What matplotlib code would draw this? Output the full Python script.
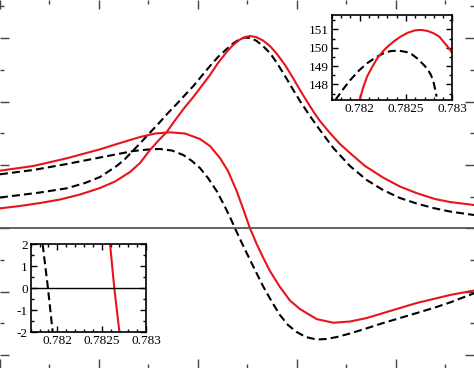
import numpy as np
import matplotlib.pyplot as plt
from matplotlib.ticker import MultipleLocator

# main panel (arbitrary units, the original hides the tick labels)
x_r1 = [0, 0.202, 0.404, 0.606, 0.808, 1.010, 1.162, 1.313, 1.414, 1.515, 1.596, 1.684, 1.785,
        1.869, 1.953, 2.037, 2.121, 2.202, 2.290, 2.354, 2.424, 2.475, 2.525, 2.586, 2.657, 2.727,
        2.798, 2.879, 2.960, 3.030, 3.111, 3.182, 3.232, 3.333, 3.434, 3.535, 3.687, 3.869, 4.040,
        4.209, 4.394, 4.545, 4.788]
y_r1 = [0.315, 0.352, 0.399, 0.454, 0.533, 0.636, 0.738, 0.888, 1.030, 1.235, 1.377, 1.519, 1.740,
        1.913, 2.071, 2.244, 2.418, 2.607, 2.781, 2.891, 2.978, 3.017, 3.033, 3.017, 2.962, 2.875,
        2.749, 2.576, 2.371, 2.181, 1.976, 1.803, 1.692, 1.503, 1.330, 1.188, 0.983, 0.801, 0.659,
        0.555, 0.462, 0.415, 0.368]

x_k1 = [0, 0.202, 0.404, 0.674, 0.859, 1.010, 1.179, 1.263, 1.330, 1.414, 1.508, 1.616, 1.697,
        1.785, 1.869, 1.953, 2.037, 2.121, 2.202, 2.290, 2.354, 2.424, 2.475, 2.525, 2.586, 2.646,
        2.727, 2.798, 2.879, 2.963, 3.030, 3.131, 3.232, 3.367, 3.535, 3.704, 3.869, 4.040, 4.209,
        4.377, 4.545, 4.788]
y_k1 = [0.486, 0.525, 0.565, 0.631, 0.715, 0.809, 0.983, 1.093, 1.203, 1.338, 1.498, 1.677, 1.819,
        1.961, 2.103, 2.244, 2.402, 2.560, 2.702, 2.828, 2.915, 2.986, 3.009, 3.002, 2.962, 2.891,
        2.765, 2.607, 2.402, 2.181, 2.008, 1.771, 1.550, 1.267, 0.983, 0.762, 0.604, 0.478, 0.391,
        0.320, 0.265, 0.210]

x_r2 = [0, 0.336, 0.674, 1.010, 1.212, 1.414, 1.566, 1.717, 1.869, 2.020, 2.121, 2.222, 2.303,
        2.391, 2.455, 2.525, 2.593, 2.660, 2.727, 2.828, 2.929, 3.030, 3.199, 3.367, 3.535, 3.704,
        3.872, 4.040, 4.209, 4.377, 4.545, 4.788]
y_r2 = [0.909, 0.983, 1.104, 1.246, 1.345, 1.440, 1.495, 1.514, 1.495, 1.409, 1.298, 1.109, 0.904,
        0.588, 0.312, 0.0, -0.248, -0.468, -0.673, -0.926, -1.139, -1.273, -1.432, -1.489, -1.470,
        -1.415, -1.336, -1.257, -1.178, -1.115, -1.052, -0.981]

x_k2 = [0, 0.336, 0.674, 1.010, 1.346, 1.515, 1.616, 1.737, 1.852, 1.939, 2.020, 2.101, 2.189,
        2.263, 2.323, 2.374, 2.424, 2.492, 2.576, 2.660, 2.747, 2.828, 2.909, 2.997, 3.091, 3.199,
        3.293, 3.401, 3.535, 3.704, 3.869, 4.040, 4.209, 4.377, 4.545, 4.788]
y_k2 = [0.852, 0.920, 1.014, 1.117, 1.219, 1.246, 1.251, 1.227, 1.156, 1.062, 0.951, 0.793, 0.588,
        0.368, 0.178, 0.0, -0.169, -0.390, -0.658, -0.921, -1.162, -1.368, -1.525, -1.636, -1.715,
        -1.754, -1.746, -1.715, -1.659, -1.577, -1.494, -1.415, -1.336, -1.257, -1.170, -1.025]

# top-right inset
xi_r = [0.78200, 0.78204, 0.78208, 0.78213, 0.78219, 0.78225, 0.78230, 0.78237, 0.78244,
        0.78252, 0.78260, 0.78266, 0.78273, 0.78280, 0.78286, 0.78290, 0.78295, 0.78300]
yi_r = [147.15, 147.85, 148.42, 148.90, 149.42, 149.80, 150.05, 150.35, 150.60,
        150.82, 150.95, 150.97, 150.92, 150.78, 150.60, 150.35, 150.05, 149.70]
xi_k = [0.781739, 0.78182, 0.78190, 0.78199, 0.78208, 0.78217, 0.78226, 0.78234, 0.78242,
        0.78250, 0.78256, 0.78262, 0.78268, 0.78273, 0.78277, 0.78280, 0.78283]
yi_k = [147.15, 147.72, 148.24, 148.74, 149.15, 149.46, 149.70, 149.82, 149.84,
        149.77, 149.65, 149.42, 149.12, 148.85, 148.50, 148.06, 147.33]

# bottom-left inset
xz_r = [0.782595, 0.782643, 0.782700]
yz_r = [2.0, 0.0, -2.0]
xz_k = [0.781835, 0.781895, 0.781948]
yz_k = [2.0, 0.0, -2.0]

RED = '#e8141b'
DASH = (3.8, 2.0)

fig = plt.figure(figsize=(4.74, 3.68), dpi=100)
ax = fig.add_axes([0, 0, 1, 1])
ax.plot(x_k1, y_k1, color='k', lw=1.5, dashes=DASH)
ax.plot(x_k2, y_k2, color='k', lw=1.5, dashes=DASH)
ax.plot(x_r1, y_r1, color=RED, lw=1.5)
ax.plot(x_r2, y_r2, color=RED, lw=1.5)
ax.axhline(0, color='#555555', lw=1.3)
ax.set_xlim(0, 4.788)
ax.set_ylim(-2.203, 3.601)
ax.xaxis.set_major_locator(MultipleLocator(1))
ax.xaxis.set_minor_locator(MultipleLocator(0.5))
ax.yaxis.set_major_locator(MultipleLocator(1))
ax.yaxis.set_minor_locator(MultipleLocator(0.5))
ax.tick_params(which='both', direction='in', top=True, right=True,
               labelbottom=False, labelleft=False, color='#444444', width=1)
ax.tick_params(which='major', length=6.5)
ax.tick_params(which='minor', length=3.2)
for s in ax.spines.values():
    s.set_visible(False)

serif = ['Liberation Serif', 'DejaVu Serif']


def style_inset(a):
    a.tick_params(which='both', direction='in', top=True, right=True, width=1,
                  labelsize=9.5, pad=2)
    a.tick_params(which='major', length=4)
    a.tick_params(which='minor', length=2.5)
    for lab in a.get_xticklabels() + a.get_yticklabels():
        lab.set_family(serif)
    for s in a.spines.values():
        s.set_linewidth(1.2)


# top-right inset
a1 = fig.add_axes([0.700, 0.728, 0.2544, 0.231])
a1.plot(xi_k, yi_k, color='k', lw=1.5, dashes=DASH)
a1.plot(xi_r, yi_r, color=RED, lw=1.5)
a1.set_xlim(0.7817, 0.783)
a1.set_ylim(147.14, 151.78)
a1.xaxis.set_minor_locator(MultipleLocator(0.0001))
a1.yaxis.set_minor_locator(MultipleLocator(0.5))
a1.set_xticks([0.782, 0.7825, 0.783])
a1.set_xticklabels(['0.782', '0.7825', '0.783'])
a1.set_yticks([148, 149, 150, 151])
a1.set_yticklabels(['148', '149', '150', '151'])
style_inset(a1)

# bottom-left inset
a2 = fig.add_axes([0.0647, 0.0978, 0.2433, 0.2383])
a2.plot(xz_k, yz_k, color='k', lw=1.5, dashes=DASH)
a2.plot(xz_r, yz_r, color=RED, lw=1.5)
a2.axhline(0, color='k', lw=1)
a2.set_xlim(0.7817, 0.783)
a2.set_ylim(-2, 2)
a2.xaxis.set_minor_locator(MultipleLocator(0.0001))
a2.yaxis.set_minor_locator(MultipleLocator(0.5))
a2.set_xticks([0.782, 0.7825, 0.783])
a2.set_xticklabels(['0.782', '0.7825', '0.783'])
a2.set_yticks([-2, -1, 0, 1, 2])
a2.set_yticklabels(['-2', '-1', '0', '1', '2'])
style_inset(a2)

fig.savefig('out.png', dpi=100)
